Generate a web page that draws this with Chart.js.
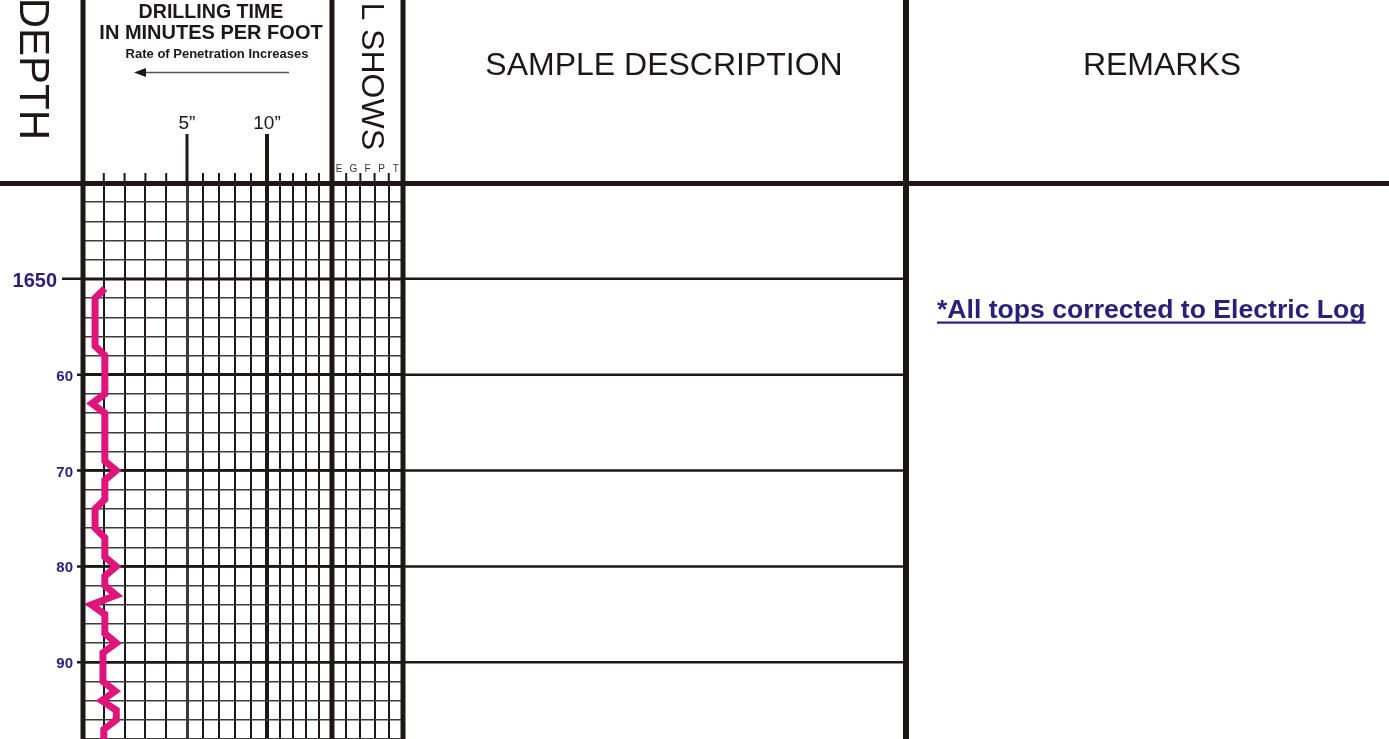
<!DOCTYPE html>
<html lang="en">
<head>
    <meta charset="UTF-8">
    <title>Drilling time log</title>
    <script src="https://cdn.jsdelivr.net/npm/chart.js@4.4.1/dist/chart.umd.min.js"></script>
    <style>
        body{ margin:0; background:#fff; }
        #board{ width:1389px; height:739px; }
    </style>
</head>
<body>
    <div id="board">
        <canvas id="chart1" width="1389" height="739"></canvas>
    </div>
<script>
    // depth in feet, one reading per foot
    const depthFeet = [1651,1652,1653,1654,1655,1656,1657,1658,1659,1660,
                       1661,1662,1663,1664,1665,1666,1667,1668,1669,1670,
                       1671,1672,1673,1674,1675,1676,1677,1678,1679,1680,
                       1681,1682,1683,1684,1685,1686,1687,1688,1689,1690,
                       1691,1692,1693,1694,1695,1696,1697,1698];
    // drilling time, minutes per foot
    const drillMinutes = [1.05,0.58,0.58,0.58,0.58,0.58,0.58,1.05,1.05,1.05,
                          1.05,1.05,0.43,1.05,1.05,1.05,1.05,1.05,1.05,1.6,
                          1.05,1.05,1.05,0.58,0.58,0.58,1.05,1.05,1.05,1.6,
                          1.05,1.05,1.6,0.4,1.05,1.05,1.05,1.6,0.96,0.96,
                          0.96,0.96,1.55,0.9,1.6,1.6,1.0,1.0];

    const depthTicks = [1650,1660,1670,1680,1690];
    const depthTickLabels = ['1650','60','70','80','90'];
    const minuteTicks = [5,10];
    const minuteTickLabels = ['5\u201D','10\u201D'];
    const showCodes = ['E','G','F','P','T'];

    const FONT = "'Liberation Sans', Arial, sans-serif";
    const INK = '#1c1818';
    const NAVY = '#2b1f7a';

    // x axis is stretched in pieces: 0-5, 5-10, 10-15 minutes, then 15-20 are the oil show columns
    const xBreaks = [0,5,10,15,20];
    const xBreakFrac = [0, 0.325, 0.575, 0.778, 1];

    class DrillScale extends Chart.LinearScale {
        getPixelForValue(v){
            let i = 0;
            while(i < xBreaks.length-2 && v > xBreaks[i+1]) i++;
            const t = (v - xBreaks[i]) / (xBreaks[i+1] - xBreaks[i]);
            const f = xBreakFrac[i] + t * (xBreakFrac[i+1] - xBreakFrac[i]);
            return this.getPixelForDecimal(f);
        }
        getValueForPixel(p){
            const f = this.getDecimalForPixel(p);
            let i = 0;
            while(i < xBreakFrac.length-2 && f > xBreakFrac[i+1]) i++;
            const t = (f - xBreakFrac[i]) / (xBreakFrac[i+1] - xBreakFrac[i]);
            return xBreaks[i] + t * (xBreaks[i+1] - xBreaks[i]);
        }
    }
    DrillScale.id = 'drill';
    DrillScale.defaults = Chart.LinearScale.defaults;
    Chart.register(DrillScale);

    const REMARKS_X = 906;

    const logFrame = {
        id:'logFrame',
        beforeDatasetsDraw(chart){
            const ctx = chart.ctx;
            const xs = chart.scales.x, ys = chart.scales.y;
            const top = chart.chartArea.top;
            const W = chart.width, H = chart.height;

            ctx.save();
            ctx.strokeStyle = INK;
            ctx.lineCap = 'butt';

            // 10 ft depth lines running through the description column
            depthTicks.forEach((d,i)=>{
                const y = ys.getPixelForValue(d);
                ctx.lineWidth = 2.5;
                ctx.beginPath();
                ctx.moveTo(i === 0 ? 62 : 77, y);
                ctx.lineTo(REMARKS_X, y);
                ctx.stroke();

                ctx.fillStyle = NAVY;
                ctx.textAlign = 'right';
                ctx.textBaseline = 'alphabetic';
                if(i === 0){
                    ctx.font = 'bold 20px ' + FONT;
                    ctx.fillText(depthTickLabels[i], 57, y + 8);
                }else{
                    ctx.font = 'bold 15px ' + FONT;
                    ctx.fillText(depthTickLabels[i], 73, y + 6);
                }
            });

            // short ticks above the header line
            ctx.lineWidth = 2;
            for(let v = 1; v < 20; v++){
                if(v === 5 || v === 10 || v === 15) continue;
                const x = xs.getPixelForValue(v);
                ctx.beginPath();
                ctx.moveTo(x, 173);
                ctx.lineTo(x, top);
                ctx.stroke();
            }
            // long ticks for 5" and 10"
            minuteTicks.forEach((m,i)=>{
                const x = xs.getPixelForValue(m);
                ctx.lineWidth = i === 0 ? 3 : 4;
                ctx.beginPath();
                ctx.moveTo(x, 134);
                ctx.lineTo(x, top);
                ctx.stroke();
                ctx.fillStyle = INK;
                ctx.font = '19px ' + FONT;
                ctx.textAlign = 'center';
                ctx.fillText(minuteTickLabels[i], x, 129);
            });

            // oil show letters
            ctx.fillStyle = '#333';
            ctx.font = '10px ' + FONT;
            ctx.textAlign = 'center';
            showCodes.forEach((c,i)=>{
                ctx.fillText(c, xs.getPixelForValue(15.5 + i), 172);
            });

            // column borders
            ctx.strokeStyle = INK;
            ctx.lineWidth = 5;
            [0,15,20].forEach(v=>{
                const x = xs.getPixelForValue(v);
                ctx.beginPath();
                ctx.moveTo(x, 0);
                ctx.lineTo(x, H);
                ctx.stroke();
            });
            ctx.lineWidth = 6;
            ctx.beginPath();
            ctx.moveTo(REMARKS_X, 0);
            ctx.lineTo(REMARKS_X, H);
            ctx.stroke();

            // header line
            ctx.lineWidth = 5;
            ctx.beginPath();
            ctx.moveTo(0, top + 0.5);
            ctx.lineTo(W, top + 0.5);
            ctx.stroke();

            // header texts
            ctx.fillStyle = INK;
            ctx.textAlign = 'center';
            ctx.font = 'bold 19.6px ' + FONT;
            ctx.fillText('DRILLING TIME', 211, 18);
            ctx.font = 'bold 20px ' + FONT;
            ctx.fillText('IN MINUTES PER FOOT', 211, 39);
            ctx.font = 'bold 13px ' + FONT;
            ctx.fillText('Rate of Penetration Increases', 217, 58);

            // arrow
            ctx.strokeStyle = '#555';
            ctx.lineWidth = 1.5;
            ctx.beginPath();
            ctx.moveTo(289, 72.5);
            ctx.lineTo(142, 72.5);
            ctx.stroke();
            ctx.fillStyle = INK;
            ctx.beginPath();
            ctx.moveTo(134, 72.5);
            ctx.lineTo(146, 68);
            ctx.lineTo(146, 77);
            ctx.closePath();
            ctx.fill();

            ctx.font = '32px ' + FONT;
            ctx.fillText('SAMPLE DESCRIPTION', 664, 75);
            ctx.fillText('REMARKS', 1162, 75);

            // rotated column titles
            ctx.save();
            ctx.translate(20, 0);
            ctx.rotate(Math.PI/2);
            ctx.font = '42px ' + FONT;
            ctx.textAlign = 'right';
            ctx.fillText('DEPTH', 140, 0);
            ctx.restore();

            ctx.save();
            ctx.translate(362, 0);
            ctx.rotate(Math.PI/2);
            ctx.font = '32px ' + FONT;
            ctx.textAlign = 'right';
            ctx.fillText('OIL SHOWS', 150, 0);
            ctx.restore();

            // remark note
            const note = '*All tops corrected to Electric Log';
            ctx.font = 'bold 26.6px ' + FONT;
            ctx.fillStyle = NAVY;
            ctx.textAlign = 'left';
            ctx.fillText(note, 937, 318);
            const w = ctx.measureText(note).width;
            ctx.fillRect(937, 321.5, w, 2.2);

            ctx.restore();
        }
    };

    const ctx = document.getElementById('chart1').getContext('2d');

    new Chart(ctx, {
        type:'line',
        data:{
            datasets:[{
                label:'Drilling time',
                data: depthFeet.map((d,i)=>({x: drillMinutes[i], y: d})),
                borderColor:'#e0157b',
                borderWidth:7,
                borderJoinStyle:'miter',
                pointRadius:0,
                tension:0,
                fill:false
            }]
        },
        options:{
            responsive:false,
            animation:false,
            layout:{ padding:{ left:83, right:986, top:183, bottom:0 } },
            plugins:{ legend:{display:false}, tooltip:{enabled:false} },
            scales:{
                x:{
                    type:'drill',
                    min:0, max:20,
                    ticks:{ display:false, stepSize:1 },
                    border:{ display:false },
                    grid:{
                        drawTicks:false,
                        color: c => c.tick && c.tick.value === 5 ? '#3a3a3a' : INK,
                        lineWidth: c => {
                            const v = c.tick ? c.tick.value : 0;
                            if(v === 0 || v === 15 || v === 20) return 0;
                            if(v === 5) return 3;
                            if(v === 10) return 4;
                            return 2;
                        }
                    }
                },
                y:{
                    type:'linear',
                    reverse:true,
                    min:1640, max:1698,
                    ticks:{ display:false, stepSize:2 },
                    border:{ display:false },
                    grid:{
                        drawTicks:false,
                        color: c => c.tick && c.tick.value % 10 === 0 ? INK : '#3c3c3c',
                        lineWidth: c => c.tick && c.tick.value % 10 === 0 ? 2.5 : 1.4
                    }
                }
            }
        },
        plugins:[logFrame]
    });
</script>
</body>
</html>
